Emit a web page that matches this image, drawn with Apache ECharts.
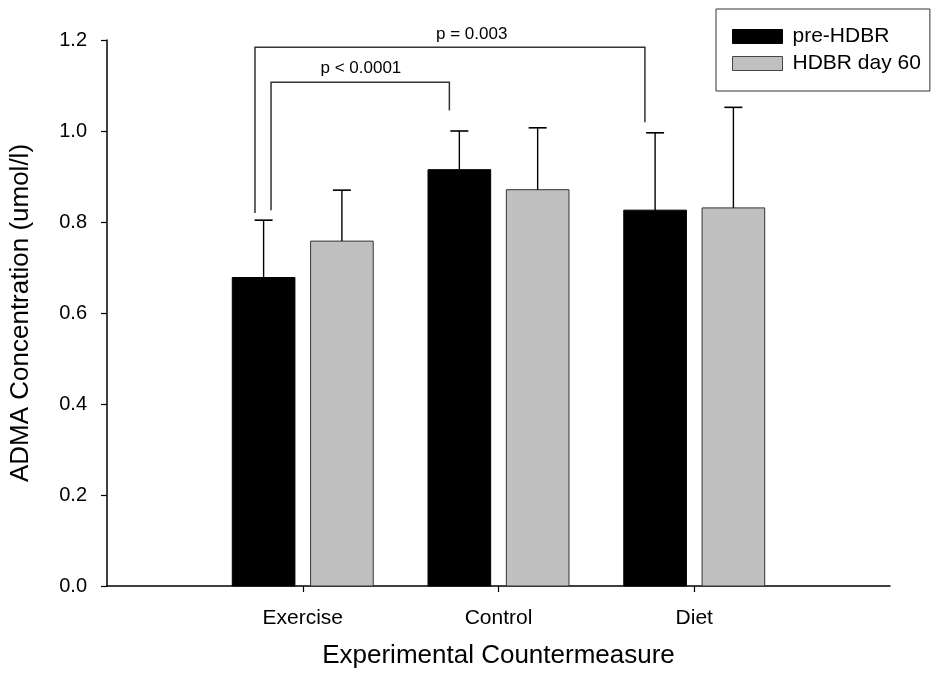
<!DOCTYPE html>
<html>
<head>
<meta charset="utf-8">
<script src="https://cdn.jsdelivr.net/npm/echarts@6/dist/echarts.min.js"></script>
<style>
  html, body { margin: 0; padding: 0; background: #fff; }
  #chart { width: 932px; height: 681px; }
</style>
</head>
<body>
<div id="chart"></div>
<script>
// Groups along the x axis (placed at positions 1, 2, 3)
var categories = ['Exercise', 'Control', 'Diet'];

// Mean ADMA concentration (umol/l) per group
var preHDBR = [0.678, 0.915, 0.826];
var hdbrDay60 = [0.758, 0.871, 0.831];

// Upper end of each error bar (umol/l)
var preHDBRUpper = [0.804, 1.000, 0.996];
var hdbrDay60Upper = [0.870, 1.007, 1.052];

var yTicks = [0, 0.2, 0.4, 0.6, 0.8, 1.0, 1.2];

// Significance brackets: [xLeft, yLeftEnd, xRight, yRightEnd, yTop, labelX, labelY, text]
var brackets = [
  [0.756, 0.820, 2.748, 1.019, 1.184, 1.863, 1.213, 'p = 0.003'],
  [0.838, 0.826, 1.749, 1.045, 1.107, 1.297, 1.138, 'p < 0.0001']
];

var FONT = 'Arial, "Liberation Sans", Helvetica, sans-serif';

function barRenderer(sign, fill, stroke, upper) {
  return function (params, api) {
    var i = api.value(0);
    var v = api.value(1);
    var idx = params.dataIndex;
    var band = api.size([1, 0])[0];
    var w = band * 0.32;
    var off = band * 0.2 * sign;
    var base = api.coord([i, 0]);
    var top = api.coord([i, v]);
    var errTop = api.coord([i, upper[idx]]);
    var cx = base[0] + off;
    var cap = 9;
    return {
      type: 'group',
      children: [
        {
          type: 'rect',
          shape: { x: cx - w / 2, y: top[1], width: w, height: base[1] - top[1] },
          style: { fill: fill, stroke: stroke, lineWidth: 1 }
        },
        {
          type: 'line',
          shape: { x1: cx, y1: top[1], x2: cx, y2: errTop[1] },
          style: { stroke: '#000', lineWidth: 1.4 }
        },
        {
          type: 'line',
          shape: { x1: cx - cap, y1: errTop[1], x2: cx + cap, y2: errTop[1] },
          style: { stroke: '#000', lineWidth: 1.6 }
        }
      ]
    };
  };
}

function toPoints(values) {
  return values.map(function (v, i) { return [i + 1, v]; });
}

var chart = echarts.init(document.getElementById('chart'), null, { renderer: 'canvas' });

chart.setOption({
  backgroundColor: '#fff',
  animation: false,
  textStyle: { fontFamily: FONT },
  grid: { left: 107, right: 42, top: 40, bottom: 95, containLabel: false },
  legend: {
    left: 716,
    top: 9,
    orient: 'vertical',
    backgroundColor: '#fff',
    borderColor: '#333',
    borderWidth: 1,
    borderRadius: 0,
    padding: [17, 9, 17, 16],
    itemWidth: 50,
    itemHeight: 14,
    itemGap: 6,
    icon: 'rect',
    textStyle: { fontSize: 21, color: '#000', fontFamily: FONT, padding: [0, 0, 0, 5] },
    data: [
      { name: 'pre-HDBR', itemStyle: { color: '#000', borderColor: '#000', borderWidth: 1 } },
      { name: 'HDBR day 60', itemStyle: { color: '#c0c0c0', borderColor: '#444', borderWidth: 1 } }
    ]
  },
  xAxis: {
    type: 'value',
    min: 0,
    max: 4,
    interval: 1,
    name: 'Experimental Countermeasure',
    nameLocation: 'middle',
    nameGap: 57,
    nameTextStyle: { fontSize: 26, color: '#000', fontFamily: FONT },
    axisLine: { show: true, lineStyle: { color: '#000', width: 1.5 } },
    axisTick: { show: true, customValues: [1, 2, 3], length: 6, inside: false, lineStyle: { color: '#000', width: 1.2 } },
    axisLabel: {
      customValues: [1, 2, 3],
      margin: 22,
      fontSize: 21,
      color: '#000',
      fontFamily: FONT,
      formatter: function (v) { return categories[Math.round(v) - 1] || ''; }
    },
    splitLine: { show: false }
  },
  yAxis: {
    type: 'value',
    min: 0,
    max: 1.2,
    interval: 0.2,
    name: 'ADMA Concentration (umol/l)',
    nameLocation: 'middle',
    nameGap: 73,
    nameTextStyle: { fontSize: 26, color: '#000', fontFamily: FONT },
    axisLine: { show: true, lineStyle: { color: '#000', width: 1.5 } },
    axisTick: { show: true, length: 6, inside: false, lineStyle: { color: '#000', width: 1.2 } },
    axisLabel: {
      margin: 20,
      fontSize: 20,
      color: '#000',
      fontFamily: FONT,
      customValues: yTicks,
      formatter: function (v) { return v.toFixed(1); }
    },
    splitLine: { show: false }
  },
  series: [
    {
      name: 'pre-HDBR',
      type: 'custom',
      itemStyle: { color: '#000', borderColor: '#000' },
      renderItem: barRenderer(-1, '#000', '#000', preHDBRUpper),
      encode: { x: 0, y: 1 },
      data: toPoints(preHDBR),
      z: 2
    },
    {
      name: 'HDBR day 60',
      type: 'custom',
      itemStyle: { color: '#c0c0c0', borderColor: '#444' },
      renderItem: barRenderer(1, '#c0c0c0', '#333', hdbrDay60Upper),
      encode: { x: 0, y: 1 },
      data: toPoints(hdbrDay60),
      z: 2
    },
    {
      name: 'brackets',
      type: 'custom',
      silent: true,
      clip: false,
      renderItem: function (params, api) {
        var b = brackets[params.dataIndex];
        var l0 = api.coord([b[0], b[1]]);
        var lt = api.coord([b[0], b[4]]);
        var rt = api.coord([b[2], b[4]]);
        var r0 = api.coord([b[2], b[3]]);
        var lab = api.coord([b[5], b[6]]);
        return {
          type: 'group',
          children: [
            {
              type: 'polyline',
              shape: { points: [l0, lt, rt, r0] },
              style: { stroke: '#333', lineWidth: 1.5, fill: null }
            },
            {
              type: 'text',
              x: lab[0],
              y: lab[1],
              style: {
                text: b[7],
                fill: '#000',
                font: '17px ' + FONT,
                align: 'center',
                verticalAlign: 'middle'
              }
            }
          ]
        };
      },
      encode: { x: 0, y: 1 },
      data: brackets.map(function (b) { return [b[0], b[4]]; }),
      z: 3
    }
  ]
});
</script>
</body>
</html>
